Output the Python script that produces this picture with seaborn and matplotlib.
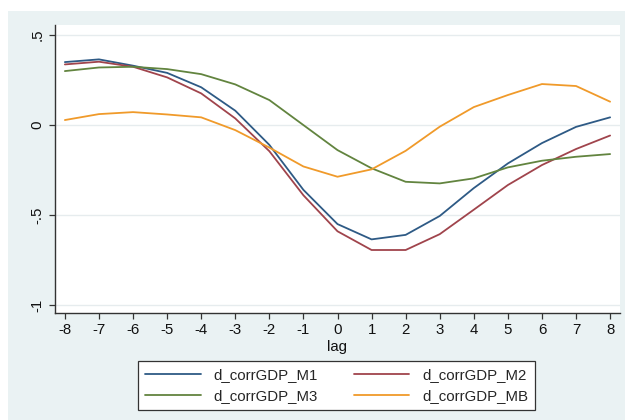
import matplotlib
matplotlib.use("Agg")
import matplotlib.pyplot as plt
import matplotlib.patches as mpatches
import numpy as np
import pandas as pd
import seaborn as sns

# Cross-correlations of GDP with the monetary aggregates at each lag
lags = list(range(-8, 9))
corr_m1 = [0.35, 0.365, 0.33, 0.29, 0.21, 0.08, -0.11, -0.36, -0.55, -0.635,
           -0.61, -0.505, -0.35, -0.213, -0.10, -0.01, 0.043]
corr_m2 = [0.337, 0.352, 0.324, 0.265, 0.176, 0.037, -0.145, -0.39, -0.59, -0.694,
           -0.694, -0.606, -0.47, -0.333, -0.222, -0.133, -0.058]
corr_m3 = [0.30, 0.32, 0.324, 0.311, 0.283, 0.226, 0.139, 0.0, -0.139, -0.24,
           -0.315, -0.324, -0.296, -0.235, -0.198, -0.176, -0.161]
corr_mb = [0.028, 0.061, 0.072, 0.059, 0.043, -0.028, -0.125, -0.23, -0.287, -0.246,
           -0.143, -0.009, 0.10, 0.167, 0.228, 0.217, 0.13]

series_names = ["d_corrGDP_M1", "d_corrGDP_M2", "d_corrGDP_M3", "d_corrGDP_MB"]
series_values = [corr_m1, corr_m2, corr_m3, corr_mb]
series_colors = ["#2e5a85", "#a0444c", "#62843f", "#f09a2a"]

y_ticks = [-1, -0.5, 0, 0.5]
y_tick_labels = ["-1", "-.5", "0", ".5"]

df = pd.concat(
    [pd.DataFrame({"lag": lags, "value": vals, "series": name})
     for name, vals in zip(series_names, series_values)],
    ignore_index=True,
)

sns.set_style("white")
plt.rcParams["font.family"] = ["Liberation Sans", "DejaVu Sans"]

W, H = 625, 420
FS = 10.8
fig = plt.figure(figsize=(W / 100, H / 100), dpi=100, facecolor="white")

# graph region background, kept behind everything else
bg = mpatches.Rectangle((8 / W, 0), 1 - 8 / W, 1 - 11 / H, transform=fig.transFigure,
                        facecolor="#eaf2f3", edgecolor="none", zorder=-10)
fig.patches.append(bg)

ax = fig.add_axes([55 / W, 1 - 313 / H, 565 / W, 288 / H])
ax.set_zorder(2)
ax.set_facecolor("white")

sns.lineplot(data=df, x="lag", y="value", hue="series",
             palette=dict(zip(series_names, series_colors)),
             linewidth=1.3, ax=ax, legend=True)

ax.set_xlim(-8.29, 8.29)
ax.set_ylim(-1.044, 0.556)
ax.set_xticks(lags)
ax.set_xticklabels([str(v) for v in lags])
ax.set_yticks(y_ticks)
ax.set_yticklabels(y_tick_labels, rotation=90, va="center")

ax.grid(axis="y", color="#e6ecee", linewidth=1.0)
ax.grid(axis="x", visible=False)
ax.set_axisbelow(True)

for side in ["top", "right"]:
    ax.spines[side].set_visible(False)
for side in ["left", "bottom"]:
    ax.spines[side].set_color("#333333")
    ax.spines[side].set_linewidth(1.0)

ax.tick_params(axis="both", which="major", direction="out", length=4.5, width=0.9,
               color="#333333", labelsize=FS, labelcolor="#111111",
               left=True, bottom=True, pad=3)

ax.set_xlabel("lag", fontsize=FS, labelpad=2, color="#111111")
ax.set_ylabel("")

handles, labels = ax.get_legend_handles_labels()
ax.get_legend().remove()
lookup = dict(zip(labels, handles))
# two columns filled row by row: M1 | M2, then M3 | MB
order = ["d_corrGDP_M1", "d_corrGDP_M3", "d_corrGDP_M2", "d_corrGDP_MB"]
leg = fig.legend([lookup[k] for k in order], order, ncol=2, loc="center",
                 bbox_to_anchor=(336.5 / W, 1 - 385.5 / H),
                 bbox_transform=fig.transFigure,
                 fontsize=FS, frameon=True, fancybox=False, framealpha=1.0,
                 handlelength=3.7, handletextpad=0.85, columnspacing=2.4,
                 labelspacing=0.45, borderpad=0.45)
leg.get_frame().set_edgecolor("#333333")
leg.get_frame().set_linewidth(0.9)
leg.get_frame().set_facecolor("white")
for line in leg.get_lines():
    line.set_linewidth(1.3)

fig.savefig("out.png", dpi=100, facecolor="white")
